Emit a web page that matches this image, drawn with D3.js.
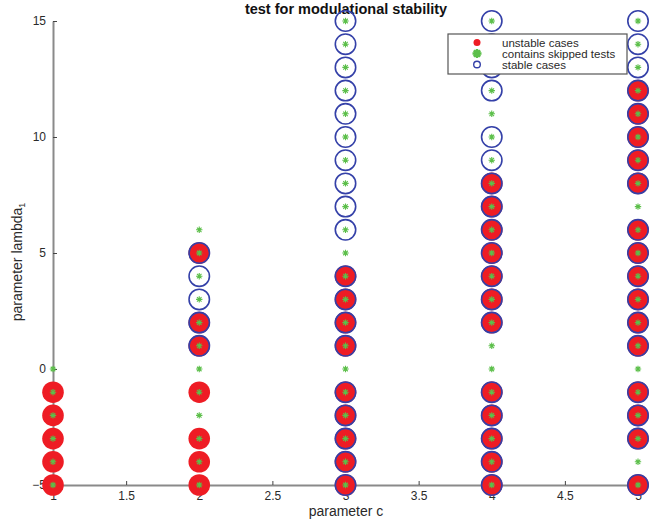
<!DOCTYPE html>
<html>
<head>
<meta charset="utf-8">
<script src="https://cdn.jsdelivr.net/npm/d3@7"></script>
<style>
  html, body { margin: 0; padding: 0; background: #fff; }
  svg { display: block; font-family: "Liberation Sans", Arial, Helvetica, sans-serif; }
</style>
</head>
<body>
<svg id="chart" width="649" height="525"></svg>
<script>
// ---- data ----
const cValues = [1, 2, 3, 4, 5];
const unstableLambdas = [
  [-1, -2, -3, -4, -5],
  [5, 2, 1, -1, -3, -4, -5],
  [4, 3, 2, 1, -1, -2, -3, -4, -5],
  [8, 7, 6, 5, 4, 3, 2, -1, -2, -3, -4, -5],
  [12, 11, 10, 9, 8, 6, 5, 4, 3, 2, 1, -1, -2, -3, -5]
];
const skippedLambdas = [
  [0, -1, -2, -3, -4, -5],
  [6, 5, 4, 3, 2, 1, 0, -1, -2, -3, -4, -5],
  [15, 14, 13, 12, 11, 10, 9, 8, 7, 6, 5, 4, 3, 2, 1, 0, -1, -2, -3, -4, -5],
  [15, 14, 13, 12, 11, 10, 9, 8, 7, 6, 5, 4, 3, 2, 1, 0, -1, -2, -3, -4, -5],
  [15, 14, 13, 12, 11, 10, 9, 8, 7, 6, 5, 4, 3, 2, 1, 0, -1, -2, -3, -4, -5]
];
const stableLambdas = [
  [],
  [5, 4, 3, 2, 1],
  [15, 14, 13, 12, 11, 10, 9, 8, 7, 6, 4, 3, 2, 1, -1, -2, -3, -4, -5],
  [15, 14, 13, 12, 10, 9, 8, 7, 6, 5, 4, 3, 2, -1, -2, -3, -4, -5],
  [15, 14, 13, 12, 11, 10, 9, 8, 6, 5, 4, 3, 2, 1, -1, -2, -3, -5]
];
const xTicks = [1, 1.5, 2, 2.5, 3, 3.5, 4, 4.5, 5];
const yTicks = [-5, 0, 5, 10, 15];
const legendLabels = ["unstable cases", "contains skipped tests", "stable cases"];
const titleText = "test for modulational stability";
const xLabelText = "parameter c";
const yLabelText = "parameter lambda";
const yLabelSub = "1";

(function () {
// ---- layout ----
const mLeft = 53, mRight = 638, mTop = 21, mBottom = 485;
const RED = "#ee1c24", BLUE = "#3440a8", GREEN = "#5cbf4a", AXIS = "#8a8a8a";

const svg = d3.select("#chart");
const x = d3.scaleLinear().domain([1, 5]).range([mLeft, mRight]);
const y = d3.scaleLinear().domain([-5, 15]).range([mBottom, mTop]);

function flatten(lists) {
  const out = [];
  lists.forEach((arr, i) => arr.forEach(l => out.push({ c: cValues[i], l })));
  return out;
}
const unstable = flatten(unstableLambdas);
const skipped = flatten(skippedLambdas);
const stable = flatten(stableLambdas);

// axes
const xAxis = d3.axisBottom(x).tickValues(xTicks).tickSizeInner(-4).tickSizeOuter(0)
  .tickPadding(8).tickFormat(d3.format("~g"));
const yAxis = d3.axisLeft(y).tickValues(yTicks).tickSizeInner(-4).tickSizeOuter(0)
  .tickPadding(7).tickFormat(d3.format("~g"));

const gx = svg.append("g").attr("transform", `translate(0,${mBottom})`).call(xAxis);
const gy = svg.append("g").attr("transform", `translate(${mLeft},0)`).call(yAxis);
[gx, gy].forEach(g => {
  g.select(".domain").attr("stroke", AXIS).attr("stroke-width", 2);
  g.selectAll(".tick line").attr("stroke", "#444").attr("stroke-width", 1);
  g.selectAll(".tick text").attr("fill", "#2a2a2a").attr("font-size", 12)
    .attr("font-family", "'Liberation Sans', Arial, sans-serif");
});
gx.selectAll(".tick text").attr("dy", "0.71em").attr("y", 6);

// title & labels
svg.append("text").attr("x", 346).attr("y", 14)
  .attr("text-anchor", "middle").attr("font-weight", "bold").attr("font-size", 14.5)
  .attr("fill", "#111").text(titleText);
svg.append("text").attr("x", 346).attr("y", 516)
  .attr("text-anchor", "middle").attr("font-size", 14).attr("fill", "#2a2a2a").text(xLabelText);
const yl = svg.append("text")
  .attr("transform", `translate(22,262) rotate(-90)`)
  .attr("text-anchor", "middle").attr("font-size", 14).attr("fill", "#2a2a2a");
yl.append("tspan").text(yLabelText);
yl.append("tspan").attr("font-size", 9).attr("dy", 3).text(yLabelSub);

// star marker path
function starPath(r) {
  let p = "";
  for (let k = 0; k < 4; k++) {
    const a = k * Math.PI / 4;
    const dx = r * Math.cos(a), dy = r * Math.sin(a);
    p += `M${-dx},${-dy}L${dx},${dy}`;
  }
  return p;
}

// unstable (red filled)
svg.append("g").selectAll("circle").data(unstable).join("circle")
  .attr("cx", d => x(d.c)).attr("cy", d => y(d.l)).attr("r", 10.8)
  .attr("fill", RED);

// stable (blue hollow)
svg.append("g").selectAll("circle").data(stable).join("circle")
  .attr("cx", d => x(d.c)).attr("cy", d => y(d.l)).attr("r", 10.2)
  .attr("fill", "none").attr("stroke", BLUE).attr("stroke-width", 1.6);

// skipped (green stars)
svg.append("g").selectAll("path").data(skipped).join("path")
  .attr("transform", d => `translate(${x(d.c)},${y(d.l)})`)
  .attr("d", starPath(3.2)).attr("stroke", GREEN).attr("stroke-width", 1.1).attr("fill", "none");

// legend
const lg = svg.append("g");
lg.append("rect").attr("x", 448).attr("y", 34).attr("width", 179).attr("height", 40)
  .attr("fill", "#fff").attr("stroke", "#555").attr("stroke-width", 1.2);
const lx = 477, ly = [42.5, 53.5, 64.5];
lg.append("circle").attr("cx", lx).attr("cy", ly[0]).attr("r", 3.5).attr("fill", RED);
lg.append("path").attr("transform", `translate(${lx},${ly[1]})`).attr("d", starPath(4.5))
  .attr("stroke", GREEN).attr("stroke-width", 2.5);
lg.append("circle").attr("cx", lx).attr("cy", ly[2]).attr("r", 3.3).attr("fill", "none")
  .attr("stroke", BLUE).attr("stroke-width", 1.4);
legendLabels.forEach((t, i) => {
  lg.append("text").attr("x", 502).attr("y", ly[i] + 4).attr("font-size", 11.5)
    .attr("fill", "#2a2a2a").text(t);
});
})();
</script>
</body>
</html>
